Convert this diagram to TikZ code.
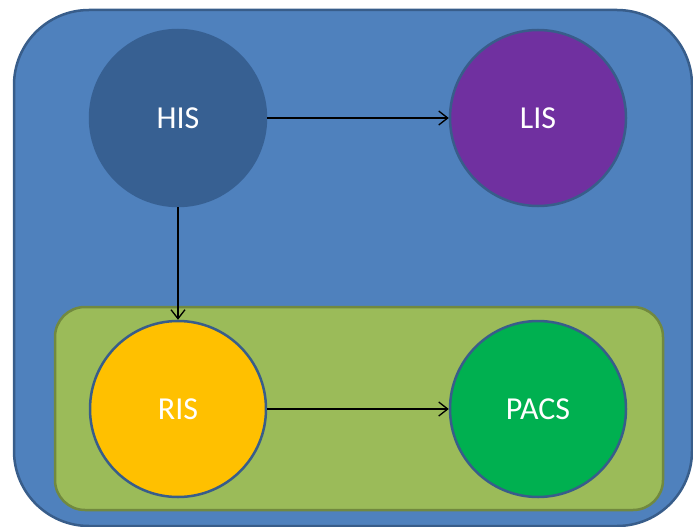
\documentclass[tikz,border=0pt]{standalone}
\usepackage{fontspec}
\setmainfont{Carlito}
\usepackage{xcolor}
\usepackage{tikz}
\usetikzlibrary{arrows.meta,positioning}

\definecolor{outerblue}{HTML}{4F81BD}
\definecolor{edgeblue}{HTML}{385D8A}
\definecolor{hisblue}{HTML}{376092}
\definecolor{lispurple}{HTML}{7030A0}
\definecolor{risyellow}{HTML}{FFC000}
\definecolor{pacsgreen}{HTML}{00B050}
\definecolor{boxgreen}{HTML}{9BBB59}
\definecolor{boxedge}{HTML}{71893F}

\begin{document}
\begin{tikzpicture}[
    x=1pt, y=-1pt,
    system/.style={circle, draw=edgeblue, line width=2.5pt, minimum size=176pt, inner sep=0pt, text=white, font=\fontsize{32}{38}\selectfont},
    container/.style={rectangle, draw=edgeblue, line width=2.5pt, fill=outerblue, rounded corners=75pt, minimum width=678pt, minimum height=516pt},
    group/.style={rectangle, draw=boxedge, line width=2.5pt, fill=boxgreen, rounded corners=30pt, minimum width=608pt, minimum height=203pt},
    arrow/.style={-{Straight Barb[length=9pt,width=14pt]}, line width=1.3pt, black}
]
\useasboundingbox (0,0) rectangle (693,527);

% Containers
\node[container] (hospital) at (353,268) {};
\node[group] (radiology) at (359,408.5) {};

% Systems
\node[system, fill=hisblue, draw=hisblue] (his) at (178,118) {HIS};
\node[system, fill=lispurple] (lis) at (538,118) {LIS};
\node[system, fill=risyellow] (ris) at (178,409) {RIS};
\node[system, fill=pacsgreen] (pacs) at (538,409) {PACS};

% Connections
\draw[arrow] (his) -- (lis);
\draw[arrow] (his) -- (ris);
\draw[arrow] (ris) -- (pacs);

\end{tikzpicture}
\end{document}
